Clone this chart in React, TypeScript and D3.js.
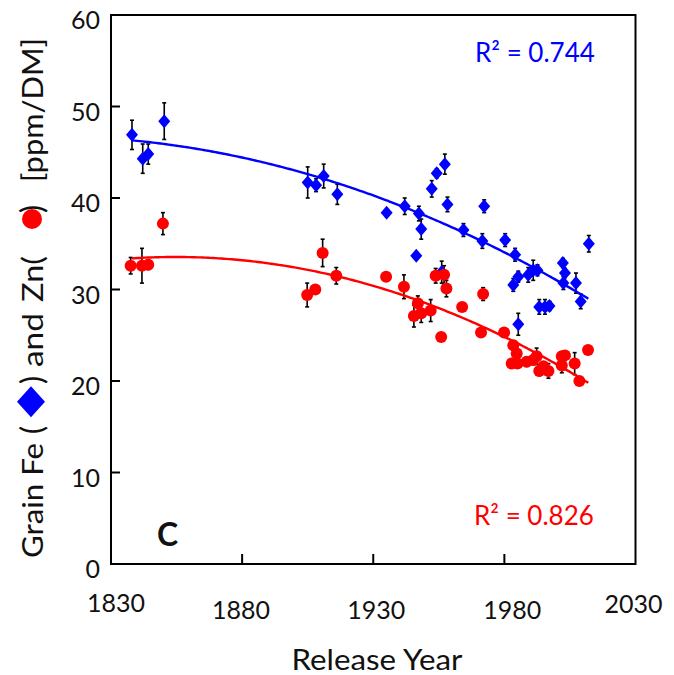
import React from "react";
import * as d3 from "d3";

// ---- data ----
const feYears = [1838, 1842.1, 1844.2, 1850.3, 1905, 1908.2, 1911.1, 1916.3, 1935.1, 1942.0, 1947.4, 1948.3, 1946.4, 1952.3, 1954.2, 1957.3, 1958.3, 1956.1, 1964.4, 1971.6, 1972.3, 1980.3, 1984.1, 1983.4, 1985.3, 1985.3, 1989.1, 1991.0, 1992.6, 1993.3, 1995.5, 1997.2, 2002.3, 2003.1, 2002.5, 2007.3, 2009.1, 2012.2];
const feValues = [46.9, 44.3, 44.8, 48.4, 41.7, 41.4, 42.4, 40.4, 38.4, 39.1, 38.3, 36.6, 33.7, 41.0, 42.7, 43.7, 39.3, 31.9, 36.5, 35.3, 39.1, 35.4, 33.8, 30.5, 31.4, 26.2, 31.6, 32.1, 32.1, 28.1, 28.1, 28.2, 32.9, 31.8, 30.7, 30.7, 28.7, 35.0];
const feErrors = [1.6, 1.6, 1.1, 2.0, 1.7, 0.7, 1.3, 1.1, 0, 0.9, 0.8, 1.1, 0, 0.9, 0.5, 1.1, 0.8, 1.2, 0.7, 0.8, 0.7, 0.7, 0.7, 0.7, 0.6, 1.2, 0.8, 1.1, 0.6, 0.8, 0.8, 0.5, 0.5, 0.5, 0.7, 1.1, 0.8, 0.9];

const znYears = [1837.5, 1841.8, 1844.2, 1849.8, 1904.8, 1907.9, 1910.7, 1915.9, 1934.9, 1941.7, 1947.0, 1945.5, 1948.3, 1951.9, 1953.8, 1957.0, 1957.9, 1955.9, 1963.9, 1971.9, 1971.1, 1979.9, 1983.4, 1984.7, 1982.8, 1985.0, 1988.5, 1991.0, 1992.3, 1993.3, 1996.8, 1994.9, 2001.9, 2003.1, 2001.9, 2006.8, 2008.6, 2011.9];
const znValues = [32.6, 32.6, 32.7, 37.2, 29.4, 30.0, 34.0, 31.5, 31.4, 30.3, 28.5, 27.1, 27.4, 27.7, 31.5, 31.6, 30.1, 24.8, 28.1, 29.5, 25.3, 25.3, 23.9, 23.0, 21.9, 21.9, 22.1, 22.3, 22.7, 21.1, 21.1, 21.6, 22.7, 22.8, 21.7, 21.9, 20.0, 23.4];
const znErrors = [0.9, 1.9, 0.5, 1.2, 1.3, 0.4, 1.5, 0.9, 0, 1.3, 0.8, 1.2, 1.0, 1.2, 0.8, 1.0, 0.9, 0.4, 0.4, 0.7, 0.4, 0.3, 0.5, 0.5, 0.5, 0.5, 0.5, 0.5, 0.9, 0.5, 0.8, 0.5, 0.5, 0.5, 0.8, 1.2, 0.3, 0.3];

// quadratic trend coefficients in t = year - trendStart
const trendStart = 1838;
const trendEnd = 2012;
const feTrend = [46.3, -0.02729, -0.0004146];
const znTrend = [33.4, 0.01851, -0.0005556];

const feR2 = "R² = 0.744";
const znR2 = "R² = 0.826";

const xTicks = [1830, 1880, 1930, 1980, 2030];
const yTicks = [0, 10, 20, 30, 40, 50, 60];

const FONT = "Lato, 'Open Sans', sans-serif";
const BLUE = "#0000ff";
const RED = "#ff0000";

const diamondPath = (hw: number, hh: number) => `M0,${-hh}L${hw},0L0,${hh}L${-hw},0Z`;

export default function App() {
  const left = 111, right = 635.5, top = 15, bottom = 564;
  const x = d3.scaleLinear().domain([1830, 2030]).range([left, right]);
  const y = d3.scaleLinear().domain([0, 60]).range([bottom, top]);

  const trend = (c: number[]) =>
    d3.range(trendStart, trendEnd + 0.01, 1).map((yr) => {
      const t = yr - trendStart;
      return [yr, c[0] + c[1] * t + c[2] * t * t] as [number, number];
    });
  const line = d3
    .line<[number, number]>()
    .x((d) => x(d[0]))
    .y((d) => y(d[1]))
    .curve(d3.curveMonotoneX);

  const errBar = (yr: number, v: number, e: number, key: string) => {
    if (!e) return null;
    const cx = x(yr);
    const y1 = y(v + e), y2 = y(v - e);
    return (
      <g key={key} stroke="#000" strokeWidth={1.6}>
        <line x1={cx} x2={cx} y1={y1} y2={y2} />
        <line x1={cx - 2} x2={cx + 2} y1={y1} y2={y1} />
        <line x1={cx - 2} x2={cx + 2} y1={y2} y2={y2} />
      </g>
    );
  };

  const xLabelAdj: Record<number, [number, number]> = {
    1830: [5, 612], 1880: [-1, 619], 1930: [3, 619], 1980: [8, 619], 2030: [-2, 613],
  };

  return (
    <svg
      width={674}
      height={675}
      style={{ position: "absolute", left: 0, top: 0, background: "#fff" }}
      fontFamily={FONT}
    >
      <rect x={0} y={0} width={674} height={675} fill="#fff" />
      {/* error bars */}
      {feYears.map((yr, i) => errBar(yr, feValues[i], feErrors[i], "fe" + i))}
      {znYears.map((yr, i) => errBar(yr, znValues[i], znErrors[i], "zn" + i))}
      {/* Fe points */}
      {feYears.map((yr, i) => (
        <path key={"fp" + i} d={diamondPath(6, 7)} transform={`translate(${x(yr)},${y(feValues[i])})`} fill={BLUE} />
      ))}
      {/* Zn points */}
      {znYears.map((yr, i) => (
        <circle key={"zp" + i} cx={x(yr)} cy={y(znValues[i])} r={6} fill={RED} />
      ))}
      {/* trend lines */}
      <path d={line(trend(feTrend)) as string} fill="none" stroke={BLUE} strokeWidth={2.4} />
      <path d={line(trend(znTrend)) as string} fill="none" stroke={RED} strokeWidth={2.4} />

      {/* frame */}
      <rect x={left} y={top} width={right - left} height={bottom - top} fill="none" stroke="#000" strokeWidth={2} />
      {/* y ticks */}
      {yTicks.map((t) => (
        <g key={"yt" + t}>
          {t > 0 && t < 60 && <line x1={left} x2={left + 9} y1={y(t)} y2={y(t)} stroke="#000" strokeWidth={2} />}
          <text x={100} y={y(t) + 14} textAnchor="end" fontSize={25} fill="#111">
            {t}
          </text>
        </g>
      ))}
      {/* x ticks */}
      {xTicks.map((t) => (
        <g key={"xt" + t}>
          {t > 1830 && t < 2030 && <line x1={x(t)} x2={x(t)} y1={bottom} y2={bottom - 10} stroke="#000" strokeWidth={2} />}
          <text x={x(t) + xLabelAdj[t][0]} y={xLabelAdj[t][1]} textAnchor="middle" fontSize={25} fill="#111">
            {t}
          </text>
        </g>
      ))}

      {/* R² labels */}
      <text x={475} y={62} fontSize={26} fill={BLUE}>{feR2}</text>
      <text x={474} y={525} fontSize={26} fill={RED}>{znR2}</text>
      {/* panel letter */}
      <text x={157} y={546} fontSize={32} fontWeight="bold" fill="#111">C</text>

      {/* x axis title */}
      <text x={377} y={670} textAnchor="middle" fontSize={28} fill="#111" textLength={171} lengthAdjust="spacingAndGlyphs">
        Release Year
      </text>

      {/* y axis title (rotated) */}
      <g transform="translate(43,0) rotate(-90)" fill="#111" fontSize={28}>
        <text x={-558} y={0} textLength={115} lengthAdjust="spacingAndGlyphs">Grain Fe</text>
        <text x={-434} y={0} fontSize={30}>(</text>
        <path d={diamondPath(15.5, 14)} transform="translate(-401.7,-12)" fill={BLUE} />
        <text x={-384} y={0} fontSize={30}>)</text>
        <text x={-367} y={0} textLength={54} lengthAdjust="spacingAndGlyphs">and</text>
        <text x={-302} y={0} textLength={46} lengthAdjust="spacingAndGlyphs">Zn(</text>
        <circle cx={-219} cy={-11} r={10} fill={RED} />
        <text x={-213} y={0} fontSize={30}>)</text>
        <text x={-182} y={0} textLength={144} lengthAdjust="spacingAndGlyphs">[ppm/DM]</text>
      </g>
    </svg>
  );
}
